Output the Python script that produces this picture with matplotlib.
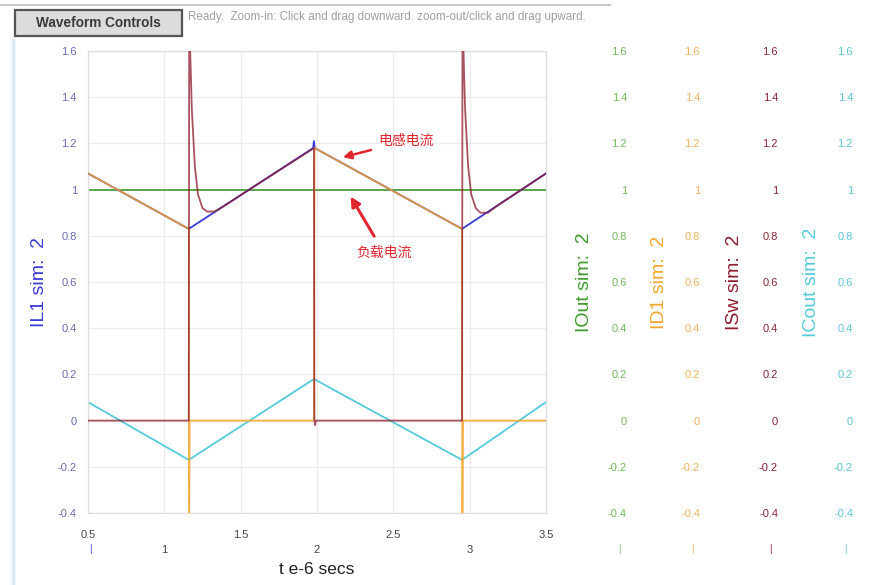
import numpy as np
import matplotlib.pyplot as plt
import matplotlib.transforms as mtransforms
from matplotlib.patches import Rectangle
from matplotlib.lines import Line2D

plt.rcParams['font.family'] = ['Liberation Sans', 'Noto Sans CJK SC']

# ── Waveform breakpoints (t in us, current in A) ──
T_IL1 = [0.5, 1.16, 1.975, 1.98, 1.985, 2.95, 3.5]
IL1 = [1.07, 0.83, 1.18, 1.21, 1.18, 0.83, 1.07]

T_IOUT = [0.5, 3.5]
IOUT = [1.0, 1.0]

T_ID1 = [0.5, 1.16, 1.162, 1.166, 1.98, 1.984, 2.95, 2.952, 2.956, 3.5]
ID1 = [1.07, 0.83, -0.6, 0.0, 0.0, 1.18, 0.83, -0.6, 0.0, 0.0]

T_ISW = [0.5, 1.16, 1.163, 1.18, 1.20, 1.22, 1.25, 1.28, 1.33, 1.38, 1.98,
         1.983, 1.988, 1.993, 2.95, 2.953, 2.97, 2.99, 3.01, 3.04, 3.07,
         3.12, 3.17, 3.5]
ISW = [0.0, 0.0, 1.75, 1.35, 1.10, 0.98, 0.92, 0.905, 0.905, 0.925, 1.18,
       0.0, -0.02, 0.0, 0.0, 1.75, 1.35, 1.10, 0.98, 0.92, 0.90,
       0.90, 0.925, 1.07]

T_ICOUT = [0.5, 1.16, 1.98, 2.95, 3.5]
ICOUT = [0.08, -0.17, 0.18, -0.17, 0.08]

Y_TICKS = [-0.4, -0.2, 0, 0.2, 0.4, 0.6, 0.8, 1, 1.2, 1.4, 1.6]
X_TICKS = [0.5, 1, 1.5, 2, 2.5, 3, 3.5]

# colours
C_IL1 = "#3b3bd6"
C_IOUT = "#3f9a2c"
C_ID1 = "#f5a52a"
C_ISW = "#8c1a2c"
C_ICOUT = "#55cbdc"
C_NOTE = "#e2262e"

W, H = 888, 585
fig = plt.figure(figsize=(W / 100, H / 100), dpi=100)
fig.patch.set_facecolor("white")


def px(x0, y0, x1, y1):
    # pixel box (top-left origin) -> figure fraction rect
    return [x0 / W, 1 - y1 / H, (x1 - x0) / W, (y1 - y0) / H]


ax = fig.add_axes(px(88, 51, 546, 513))
ax.set_xlim(0.5, 3.5)
ax.set_ylim(-0.4, 1.6)

ax.plot(T_ICOUT, ICOUT, color=C_ICOUT, lw=1.3, zorder=2)
ax.plot(T_IOUT, IOUT, color=C_IOUT, lw=1.2, zorder=2)
ax.plot(T_IL1, IL1, color=C_IL1, lw=1.3, zorder=3)
ax.plot(T_ID1, ID1, color=C_ID1, lw=1.3, alpha=0.85, zorder=4)
ax.plot(T_ISW, ISW, color=C_ISW, lw=1.3, alpha=0.75, zorder=5)

# grid / frame
ax.set_yticks(Y_TICKS)
ax.set_yticklabels([f"{v:g}" for v in Y_TICKS])
ax.set_xticks(X_TICKS)
ax.set_xticklabels([f"{v:g}" if i % 2 == 0 else f"\n{v:g}"
                    for i, v in enumerate(X_TICKS)], linespacing=1.7)
ax.grid(True, color="#ececec", lw=0.9)
ax.set_axisbelow(True)
for s in ax.spines.values():
    s.set_color("#dddddd")
    s.set_linewidth(0.9)
ax.tick_params(axis="y", length=0, pad=8, labelsize=8, labelcolor="#6a6ab4")
ax.tick_params(axis="x", length=0, pad=12, labelsize=8, labelcolor="#444444")

ax.set_xlabel("t e-6 secs", fontsize=12.5, color="#222222", labelpad=5)
ax.set_ylabel("IL1 sim:  2", fontsize=14, color=C_IL1)
ax.yaxis.set_label_coords(48 / W, 0.5,
                          transform=mtransforms.blended_transform_factory(
                              fig.transFigure, ax.transAxes))

# annotations
ax.annotate("电感电流", xy=(2.17, 1.14), xytext=(2.58, 1.21),
            fontsize=10, color=C_NOTE, ha="center", va="center",
            arrowprops=dict(arrowstyle="-|>", color=C_NOTE, lw=1.8,
                            mutation_scale=12, shrinkA=3, shrinkB=0))
ax.annotate("负载电流", xy=(2.22, 0.97), xytext=(2.44, 0.725),
            fontsize=10, color=C_NOTE, ha="center", va="center",
            arrowprops=dict(arrowstyle="-|>", color=C_NOTE, lw=2.2,
                            mutation_scale=14, shrinkA=6, shrinkB=0))

# ── extra right-hand axes (same scale, labels only) ──
right_axes = [
    ("IOut sim:  2", C_IOUT, "#72b85a", 627, 593),
    ("ID1 sim:  2", C_ID1, "#f2b25e", 700, 668),
    ("ISw sim:  2", C_ISW, "#8c2434", 778, 743),
    ("ICout sim:  2", C_ICOUT, "#5cc6d8", 853, 820),
]
for label, lcol, tcol, xr, xl in right_axes:
    rax = fig.add_axes(px(xr, 51, xr + 1, 513))
    rax.set_ylim(-0.4, 1.6)
    rax.set_yticks(Y_TICKS)
    rax.set_yticklabels([f"{v:g}" for v in Y_TICKS])
    rax.set_xticks([])
    rax.patch.set_visible(False)
    for s in rax.spines.values():
        s.set_visible(False)
    rax.tick_params(axis="y", length=0, pad=0, labelsize=8, labelcolor=tcol)
    rax.set_ylabel(label, fontsize=14, color=lcol)
    rax.yaxis.set_label_coords(xl / W, 0.5,
                               transform=mtransforms.blended_transform_factory(
                                   fig.transFigure, rax.transAxes))
    fig.text((xr - 8) / W, 1 - 549 / H, "|", color=tcol, fontsize=7,
             ha="center", va="center")

fig.text(90 / W, 1 - 549 / H, "|", color=C_IL1, fontsize=7,
         ha="center", va="center")

# ── page chrome: button, status line, border strokes ──
fig.add_artist(Line2D([0, 610 / W], [1 - 5 / H, 1 - 5 / H],
                      color="#c8c8c8", lw=1.5, transform=fig.transFigure))
fig.add_artist(Line2D([13 / W, 13 / W], [0, 1 - 40 / H],
                      color="#dce9f7", lw=2.5, transform=fig.transFigure))
btn = Rectangle((15 / W, 1 - 36 / H), 167 / W, 26 / H,
                transform=fig.transFigure, facecolor="#dcdcdc",
                edgecolor="#555555", lw=1.6)
fig.add_artist(btn)
fig.text(98 / W, 1 - 23 / H, "Waveform Controls", fontsize=9.8,
         fontweight="bold", color="#3a3a3a", ha="center", va="center")
fig.text(188 / W, 1 - 17 / H,
         "Ready.  Zoom-in: Click and drag downward. zoom-out/click and drag upward.",
         fontsize=8.4, color="#a0a0a0", ha="left", va="center")

fig.savefig("out.png", dpi=100)
